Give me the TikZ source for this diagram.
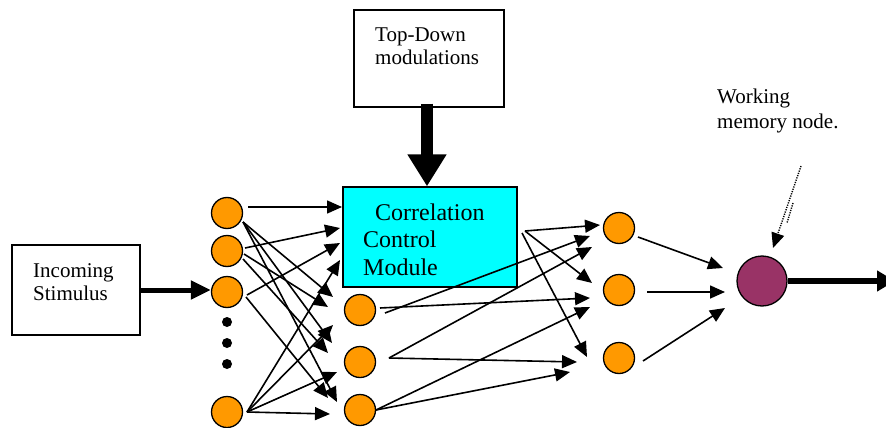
\documentclass[tikz,border=0pt]{standalone}
\usepackage{fontspec}
\setmainfont{Liberation Serif}
\usetikzlibrary{arrows.meta}
\definecolor{orangeN}{HTML}{FF9900}
\definecolor{cyanB}{HTML}{00FFFF}
\definecolor{wmcol}{HTML}{993366}
\begin{document}
\begin{tikzpicture}[x=1pt,y=-1pt,
  box/.style={draw, line width=1.3pt, rectangle, inner sep=0pt},
  neuron/.style={circle, draw, line width=1.3pt, fill=orangeN, minimum size=31pt, inner sep=0pt},
  wmnode/.style={circle, draw, line width=1.3pt, fill=wmcol, minimum size=50pt, inner sep=0pt},
  dotn/.style={circle, fill=black, minimum size=10pt, inner sep=0pt},
  lbl/.style={anchor=base west, inner sep=0pt, font=\fontsize{21}{25}\selectfont},
  clbl/.style={anchor=base west, inner sep=0pt, font=\fontsize{24}{28}\selectfont},
  arr/.style={-{Triangle[length=15pt,width=13pt]}, line width=1.6pt},
  dotline/.style={line width=1.4pt, dash pattern=on 1.2pt off 1.2pt},
  dotarr/.style={-{Triangle[length=15pt,width=13pt]}, dotline},
  bigarr/.style={-{Triangle[length=32pt,width=37pt]}, line width=12pt},
  midarr/.style={-{Triangle[length=20pt,width=18pt]}, line width=5pt},
  outarr/.style={-{Triangle[length=18pt,width=20pt]}, line width=6pt},
]
\useasboundingbox (0,0) rectangle (886,428);
\fill[white] (0,0) rectangle (886,428);

% boxes
\node[box, minimum width=150pt, minimum height=97pt] (TD) at (429,58.5) {};
\node[box, fill=cyanB, minimum width=174pt, minimum height=100pt] (CCM) at (430,237) {};
\node[box, minimum width=128pt, minimum height=90pt] (IS) at (76,290) {};

% box texts
\node[lbl] (td1) at (375,42) {Top-Down};
\node[lbl] (td2) at (375,65) {modulations};
\node[lbl] (is1) at (33,277) {Incoming};
\node[lbl] (is2) at (33,300) {Stimulus};
\node[clbl] (cc1) at (375,220) {Correlation};
\node[clbl] (cc2) at (363,247) {Control};
\node[clbl] (cc3) at (363,275) {Module};
\node[lbl] (wm1) at (717,103) {Working};
\node[lbl] (wm2) at (717,128) {memory node.};

% neurons
\node[neuron] (I1) at (227,213) {};
\node[neuron] (I2) at (227,251) {};
\node[neuron] (I3) at (227,292) {};
\node[neuron] (I4) at (227,412) {};
\node[dotn] (D1) at (227,322) {};
\node[dotn] (D2) at (227,343) {};
\node[dotn] (D3) at (227,364) {};
\node[neuron] (H1) at (360,310) {};
\node[neuron] (H2) at (360,362) {};
\node[neuron] (H3) at (360,410) {};
\node[neuron] (O1) at (619,228) {};
\node[neuron] (O2) at (619,290) {};
\node[neuron] (O3) at (619,358) {};
\node[wmnode] (WM) at (762,281) {};

% thick arrows
\draw[bigarr] ([shift={(-2,-4)}]TD.south) -- ([shift={(-3,0)}]CCM.north);
\draw[midarr] (IS.east) -- (IS.east -| I3.west);
\coordinate (outEnd) at (895,281);
\draw[outarr] (WM.east) -- (outEnd);

% input layer connections
\draw[arr] ([shift={(21,-6)}]I1.center) -- ([shift={(-88,-30)}]CCM.center);
\draw[arr] ([shift={(16,9)}]I1.center) -- ([shift={(-27,-13)}]H1.center);
\draw[arr] ([shift={(16,9)}]I1.center) -- ([shift={(-28,-19)}]H2.center);
\draw[arr] ([shift={(16,9)}]I1.center) -- ([shift={(-23,-8)}]H3.center);

\draw[arr] ([shift={(18,-3)}]I2.center) -- ([shift={(-90,-9)}]CCM.center);
\draw[arr] ([shift={(17,3)}]I2.center) -- ([shift={(-32,-3)}]H1.center);
\draw[arr] ([shift={(16,8)}]I2.center) -- ([shift={(-32,-9)}]H2.center);

\draw[arr] ([shift={(20,3)}]I3.center) -- ([shift={(-90,6)}]CCM.center);
\draw[arr] ([shift={(19,5)}]I3.center) -- ([shift={(-32,-12)}]H3.center);

\draw[arr] ([shift={(20,0)}]I4.center) -- ([shift={(-90,23)}]CCM.center);
\draw[arr] ([shift={(20,0)}]I4.center) -- ([shift={(-27,15)}]H1.center);
\draw[arr] ([shift={(20,0)}]I4.center) -- ([shift={(-23,10)}]H2.center);
\draw[arr] ([shift={(20,0)}]I4.center) -- ([shift={(-30,4)}]H3.center);

% hidden layer connections
\draw[arr] ([shift={(25,3)}]H1.center) -- ([shift={(-29,8)}]O1.center);
\draw[arr] ([shift={(20,-2)}]H1.center) -- ([shift={(-29,8)}]O2.center);
\draw[arr] ([shift={(29,-4)}]H2.center) -- ([shift={(-27,19)}]O1.center);
\draw[arr] ([shift={(29,-4)}]H2.center) -- ([shift={(-42,4)}]O3.center);
\draw[arr] ([shift={(16,0)}]H3.center) -- ([shift={(-29,17)}]O2.center);
\draw[arr] ([shift={(16,0)}]H3.center) -- ([shift={(-49,14)}]O3.center);

% module connections
\draw[arr] ([shift={(95,-6)}]CCM.center) -- ([shift={(-19,-3)}]O1.center);
\draw[arr] ([shift={(95,-6)}]CCM.center) -- ([shift={(-27,-7)}]O2.center);
\draw[arr] ([shift={(92,-4)}]CCM.center) -- ([shift={(-32,-1)}]O3.center);

% to working memory
\draw[arr] ([shift={(19,9)}]O1.center) -- ([shift={(-39,-13)}]WM.center);
\draw[arr] ([shift={(28,2)}]O2.center) -- ([shift={(-37,11)}]WM.center);
\draw[arr] ([shift={(24,3)}]O3.center) -- ([shift={(-37,27)}]WM.center);

% dotted pointer
\coordinate (dStart) at (801,166);
\coordinate (dA) at (793,203);
\coordinate (dB) at (787,223);
\draw[dotarr] (dStart) -- ([shift={(11,-33)}]WM.center);
\draw[dotline] (dA) -- (dB);
\end{tikzpicture}
\end{document}
